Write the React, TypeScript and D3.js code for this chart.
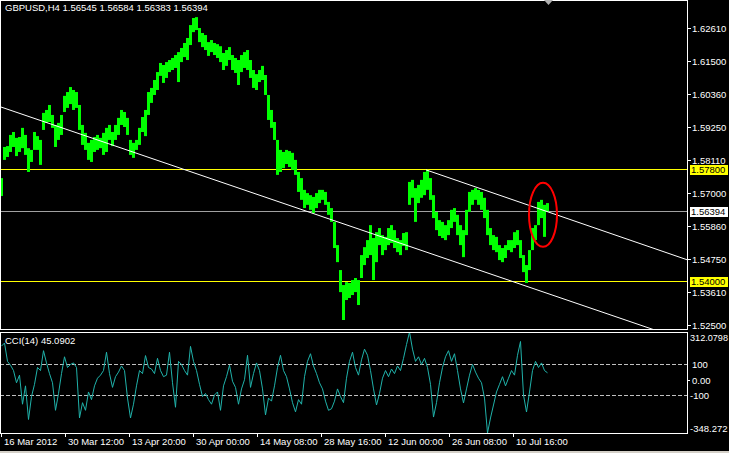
import React from 'react';
import * as d3 from 'd3';

const W = 729;
const H = 453;

const headerText = 'GBPUSD,H4  1.56545 1.56584 1.56383 1.56394';
const cciText = 'CCI(14) 45.0902';

// H4 candles grouped by 3 (one group = 3 px): high / low of each group
const groupSize = 3;
const barHighs = [
  1.5750, 1.5856, 1.5859, 1.5897, 1.5907, 1.5887, 1.5890, 1.5921, 1.5897, 1.5852,
  1.5846, 1.5907, 1.5893, 1.5880, 1.5972, 1.5982, 1.5999, 1.5965, 1.5931, 1.5938,
  1.5965, 1.6030, 1.6043, 1.6060, 1.6050, 1.6043, 1.5999, 1.5931, 1.5904, 1.5870,
  1.5880, 1.5890, 1.5897, 1.5887, 1.5904, 1.5921, 1.5931, 1.5907, 1.5931, 1.5955,
  1.5982, 1.5975, 1.5955, 1.5880, 1.5870, 1.5880, 1.5921, 1.5958, 1.5982, 1.6043,
  1.6057, 1.6084, 1.6111, 1.6142, 1.6135, 1.6145, 1.6152, 1.6159, 1.6169, 1.6179,
  1.6193, 1.6210, 1.6227, 1.6271, 1.6295, 1.6298, 1.6261, 1.6244, 1.6237, 1.6213,
  1.6220, 1.6210, 1.6206, 1.6199, 1.6176, 1.6186, 1.6196, 1.6169, 1.6159, 1.6152,
  1.6169, 1.6179, 1.6186, 1.6152, 1.6118, 1.6104, 1.6118, 1.6132, 1.6101, 1.6033,
  1.5982, 1.5941, 1.5880, 1.5846, 1.5839, 1.5846, 1.5842, 1.5836, 1.5812, 1.5771,
  1.5750, 1.5710, 1.5699, 1.5692, 1.5686, 1.5699, 1.5710, 1.5710, 1.5703, 1.5669,
  1.5648, 1.5601, 1.5522, 1.5437, 1.5386, 1.5396, 1.5393, 1.5403, 1.5410, 1.5403,
  1.5488, 1.5515, 1.5539, 1.5590, 1.5546, 1.5566, 1.5580, 1.5556, 1.5550, 1.5580,
  1.5590, 1.5573, 1.5546, 1.5539, 1.5563, 1.5566, 1.5737, 1.5744, 1.5716, 1.5727,
  1.5744, 1.5771, 1.5778, 1.5750, 1.5692, 1.5635, 1.5607, 1.5601, 1.5590, 1.5607,
  1.5642, 1.5648, 1.5625, 1.5590, 1.5573, 1.5642, 1.5703, 1.5710, 1.5716, 1.5710,
  1.5703, 1.5683, 1.5642, 1.5580, 1.5556, 1.5550, 1.5522, 1.5512, 1.5522, 1.5539,
  1.5539, 1.5566, 1.5573, 1.5539, 1.5488, 1.5454, 1.5505, 1.5580, 1.5590, 1.5669,
  1.5676, 1.5659, 1.5665,
];
const barLows = [
  1.5689, 1.5812, 1.5822, 1.5839, 1.5856, 1.5825, 1.5839, 1.5852, 1.5829, 1.5771,
  1.5805, 1.5846, 1.5846, 1.5795, 1.5914, 1.5938, 1.5941, 1.5921, 1.5856, 1.5880,
  1.5897, 1.5975, 1.5989, 1.6002, 1.5982, 1.5989, 1.5914, 1.5863, 1.5846, 1.5812,
  1.5805, 1.5839, 1.5846, 1.5852, 1.5829, 1.5839, 1.5880, 1.5859, 1.5880, 1.5897,
  1.5931, 1.5924, 1.5897, 1.5829, 1.5819, 1.5846, 1.5863, 1.5907, 1.5893, 1.5965,
  1.6006, 1.6033, 1.6050, 1.6098, 1.6074, 1.6091, 1.6111, 1.6118, 1.6125, 1.6077,
  1.6145, 1.6162, 1.6152, 1.6203, 1.6247, 1.6254, 1.6213, 1.6196, 1.6186, 1.6166,
  1.6179, 1.6169, 1.6159, 1.6145, 1.6118, 1.6132, 1.6152, 1.6118, 1.6108, 1.6067,
  1.6111, 1.6125, 1.6118, 1.6091, 1.6057, 1.6050, 1.6077, 1.6084, 1.6033, 1.5948,
  1.5921, 1.5880, 1.5761, 1.5771, 1.5784, 1.5798, 1.5788, 1.5778, 1.5761, 1.5703,
  1.5676, 1.5648, 1.5659, 1.5642, 1.5631, 1.5648, 1.5665, 1.5676, 1.5659, 1.5625,
  1.5601, 1.5512, 1.5464, 1.5362, 1.5267, 1.5335, 1.5342, 1.5352, 1.5362, 1.5318,
  1.5410, 1.5454, 1.5478, 1.5488, 1.5403, 1.5464, 1.5522, 1.5488, 1.5505, 1.5522,
  1.5529, 1.5512, 1.5498, 1.5488, 1.5519, 1.5505, 1.5659, 1.5683, 1.5601, 1.5665,
  1.5683, 1.5692, 1.5710, 1.5676, 1.5614, 1.5573, 1.5553, 1.5546, 1.5539, 1.5556,
  1.5580, 1.5601, 1.5556, 1.5522, 1.5481, 1.5556, 1.5635, 1.5659, 1.5676, 1.5659,
  1.5642, 1.5614, 1.5556, 1.5522, 1.5505, 1.5498, 1.5471, 1.5464, 1.5478, 1.5505,
  1.5498, 1.5512, 1.5522, 1.5478, 1.5430, 1.5393, 1.5437, 1.5505, 1.5539, 1.5590,
  1.5614, 1.5550, 1.5635,
];

// CCI(14), one reading per group of 3 candles
const cciValues = [
  220, 240, 120, 95, 60, -20, 30, -160, -40, -260,
  -110, -30, 80, 60, 190, 110, 40, -20, -200, -90,
  40, 150, 80, 100, 110, 80, -250, -150, -200, -80,
  -130, -40, 10, 30, 60, 180, 40, -50, 20, 50,
  90, 60, -120, -250, -160, -40, 60, 40, 158, 80,
  70, 40, 140, 60, 20, 30, 180, -20, -180, 120,
  100, 60, 30, 218, 120, 60, -30, -110, -90, -130,
  -160, -100, -80, -200, -40, 20, 95, -10, -50, -160,
  -60, 0, 160, -50, 40, 110, 60, -60, -230, -120,
  -140, -40, 80, 160, 60, 20, -60, -150, -210, -130,
  -160, 20, 120, 170, 90, 40, -20, -60, -140, -200,
  -190, -140, -60, -110, -150, 10, 120, 180, 80, 30,
  130, 200, 160, 60, -60, -165, -90, 10, 60, 20,
  70, 40, 90, 60, 140, 230, 312.08, 200, 120, 150,
  100, 140, 80, -30, -244, -150, -20, 80, 150, 190,
  120, 170, 60, -60, -152, -60, 30, 100, 50, 10,
  -20, -120, -348.27, -250, -165, -80, -30, 20, -40, 10,
  60, 30, 160, 250, -100, -211, -80, 60, 120, 80,
  110, 60, 45.09,
];

const priceTicks = [1.6261, 1.615, 1.6036, 1.5925, 1.5811, 1.57, 1.5586, 1.5475, 1.5361, 1.525];
const priceTickLabels = ['1.62610', '1.61500', '1.60360', '1.59250', '1.58110', '1.57000', '1.55860', '1.54750', '1.53610', '1.52500'];

const levelPrices = [1.578, 1.54];
const levelLabels = ['1.57800', '1.54000'];
const bidPrice = 1.56394;
const bidLabel = '1.56394';

// trend lines: anchor points (bar index, price)
const trendLines = [
  [{ bar: 1, price: 1.5992 }, { bar: 560, price: 1.5343 }],
  [{ bar: 426, price: 1.5778 }, { bar: 560, price: 1.5621 }],
];

// hand drawn ellipse around the last candles
const markCenter = { bar: 543, price: 1.5625 };
const markSpan = { bars: 14, price: 0.0109 };

const timeTickBars = [1, 65, 129, 193, 257, 321, 385, 449, 513];
const timeTickLabels = ['16 Mar 2012', '30 Mar 12:00', '13 Apr 20:00', '30 Apr 00:00', '14 May 08:00', '28 May 16:00', '12 Jun 00:00', '26 Jun 08:00', '10 Jul 16:00'];

const cciMin = -348.272;
const cciMax = 312.0798;
const cciLevels = [100, -100];

const font = "'Liberation Sans', Arial, sans-serif";
const fs = 9.5;

export default function App() {
  const plotRight = 687;
  const main = { top: 0, bottom: 329 };
  const sub = { top: 332, bottom: 433 };

  const x = d3.scaleLinear().domain([0, W]).range([0, W]);
  const y = d3.scaleLinear().domain([1.525, 1.6261]).range([325, 28]);
  const yc = d3.scaleLinear().domain([cciMin, cciMax]).range([433, 332]);

  const cciLine = d3.line<number>()
    .x((_, i) => x(i * groupSize + 1.5))
    .y(d => yc(d));

  const extend = (a: { bar: number; price: number }, b: { bar: number; price: number }) => {
    const slope = (b.price - a.price) / (b.bar - a.bar);
    return { bar: plotRight, price: a.price + slope * (plotRight - a.bar) };
  };

  return (
    <svg width={W} height={H} style={{ position: 'absolute', left: 0, top: 0, display: 'block', background: '#000' }}
      fontFamily={font}>
      <defs>
        <clipPath id="clip-main">
          <rect x={1} y={main.top + 1} width={plotRight - 1} height={main.bottom - main.top - 1} />
        </clipPath>
        <clipPath id="clip-sub">
          <rect x={1} y={sub.top + 1} width={plotRight - 1} height={sub.bottom - sub.top - 1} />
        </clipPath>
      </defs>
      <rect width={W} height={H} fill="#000" />

      {/* main panel */}
      <g clipPath="url(#clip-main)">
        {levelPrices.map((p, i) => (
          <line key={'lv' + i} x1={0} x2={plotRight} y1={Math.round(y(p)) + 0.5} y2={Math.round(y(p)) + 0.5}
            stroke="#ffff00" strokeWidth={1} />
        ))}
        <line x1={0} x2={plotRight} y1={Math.round(y(bidPrice)) + 0.5} y2={Math.round(y(bidPrice)) + 0.5}
          stroke="#a0a0a0" strokeWidth={1} />
        {barHighs.map((hi, i) => (
          <rect key={'b' + i} x={x(i * groupSize)} width={x(groupSize) - x(0)}
            y={y(hi)} height={Math.max(1, y(barLows[i]) - y(hi))} fill="#00ff00" />
        ))}
        {trendLines.map(([a, b], i) => {
          const e = extend(a, b);
          return (
            <line key={'tl' + i} x1={x(a.bar)} y1={y(a.price)} x2={x(e.bar)} y2={y(e.price)}
              stroke="#ffffff" strokeWidth={1} />
          );
        })}
        <ellipse cx={x(markCenter.bar)} cy={y(markCenter.price)}
          rx={x(markCenter.bar + markSpan.bars) - x(markCenter.bar)}
          ry={y(markCenter.price - markSpan.price) - y(markCenter.price)}
          fill="none" stroke="#ff0000" strokeWidth={2} />
      </g>
      <rect x={0.5} y={main.top + 0.5} width={plotRight} height={main.bottom - main.top} fill="none" stroke="#fff" />
      <polygon points={`${x(544)},0 ${x(553)},0 ${x(548.5)},5`} fill="#b0b0b0" />
      <text x={5} y={11} fill="#fff" fontSize={fs}>{headerText}</text>

      {/* price axis */}
      {priceTicks.map((p, i) => (
        <g key={'pt' + i} transform={`translate(0,${Math.round(y(p)) + 0.5})`}>
          <line x1={plotRight + 1} x2={plotRight + 4} stroke="#fff" />
          <text x={692} y={3.3} fill="#fff" fontSize={fs}>{priceTickLabels[i]}</text>
        </g>
      ))}
      {levelPrices.map((p, i) => (
        <g key={'pl' + i} transform={`translate(0,${Math.round(y(p))})`}>
          <rect x={690} y={-4} width={38} height={10} fill="#ffff00" />
          <text x={691} y={4.3} fill="#000" fontSize={fs}>{levelLabels[i]}</text>
        </g>
      ))}
      <g transform={`translate(0,${Math.round(y(bidPrice))})`}>
        <rect x={690} y={-4} width={38} height={10} fill="#ffffff" />
        <text x={691} y={4.3} fill="#000" fontSize={fs}>{bidLabel}</text>
      </g>

      {/* CCI panel */}
      <g clipPath="url(#clip-sub)">
        {cciLevels.map((v, i) => (
          <line key={'cl' + i} x1={0} x2={plotRight} y1={Math.round(yc(v)) + 0.5} y2={Math.round(yc(v)) + 0.5}
            stroke="#c0c0c0" strokeDasharray="4,2" />
        ))}
        <path d={cciLine(cciValues) || ''} fill="none" stroke="#20b2aa" strokeWidth={1} />
      </g>
      <rect x={0.5} y={sub.top + 0.5} width={plotRight} height={sub.bottom - sub.top} fill="none" stroke="#fff" />
      <text x={5} y={344} fill="#fff" fontSize={fs}>{cciText}</text>
      <text x={690} y={sub.top + 9} fill="#fff" fontSize={fs} textLength={38} lengthAdjust="spacingAndGlyphs">
        {cciMax.toFixed(4)}
      </text>
      <text x={692} y={Math.round(yc(100)) + 4} fill="#fff" fontSize={fs}>100</text>
      <line x1={plotRight + 1} x2={plotRight + 3} y1={Math.round(yc(0)) + 0.5} y2={Math.round(yc(0)) + 0.5} stroke="#fff" />
      <text x={692} y={Math.round(yc(0)) + 4} fill="#fff" fontSize={fs}>0.00</text>
      <text x={690} y={Math.round(yc(-100)) + 4} fill="#fff" fontSize={fs}>-100</text>
      <text x={690} y={sub.bottom - 1} fill="#fff" fontSize={fs}>{cciMin.toFixed(3)}</text>

      {/* time axis */}
      {timeTickBars.map((b, i) => (
        <g key={'tt' + i} transform={`translate(${Math.round(x(b)) + 0.5},0)`}>
          <line y1={sub.bottom} y2={sub.bottom + 4} stroke="#fff" />
          <text x={2.5} y={445} fill="#fff" fontSize={fs}>{timeTickLabels[i]}</text>
        </g>
      ))}
      <rect x={0} y={451} width={W} height={2} fill="#d4d0c8" />
    </svg>
  );
}
